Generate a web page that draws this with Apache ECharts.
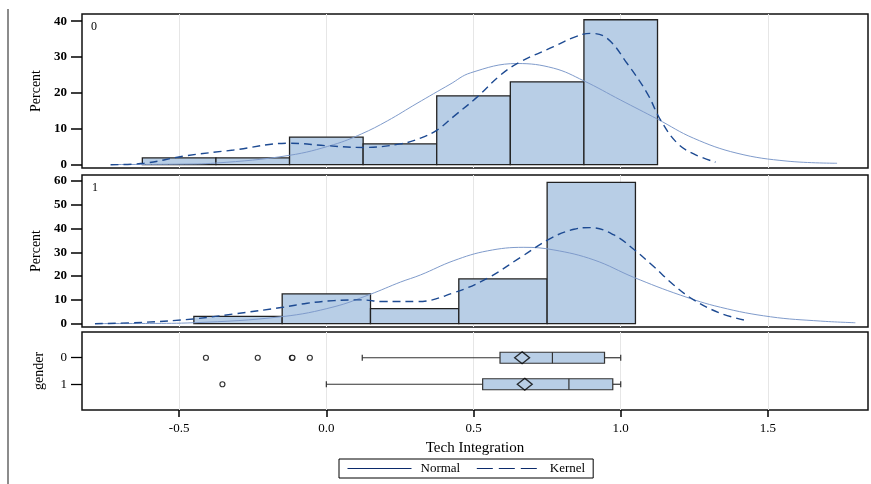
<!DOCTYPE html>
<html>
<head>
<meta charset="utf-8">
<script src="https://cdn.jsdelivr.net/npm/echarts@6/dist/echarts.min.js"></script>
<style>
  html, body { margin: 0; padding: 0; background: #fff; }
  #echart { width: 871px; height: 484px; }
</style>
</head>
<body>
<div id="echart"></div>
<script>
// 直方图 gender 0
const binWidth0 = 0.25
const binMid0 = [-0.5, -0.25, 0, 0.25, 0.5, 0.75, 1.0]
const binPct0 = [1.9, 1.9, 7.7, 5.8, 19.2, 23.1, 40.4]
// 直方图 gender 1
const binWidth1 = 0.3
const binMid1 = [-0.3, 0, 0.3, 0.6, 0.9]
const binPct1 = [3.1, 12.5, 6.3, 18.8, 59.4]

// Normal / Kernel 曲线
const normalX0 = [-0.73, -0.5, -0.376, -0.126, 0.025, 0.12, 0.207, 0.308, 0.42, 0.49, 0.648, 0.772, 0.874, 1.0, 1.125, 1.247, 1.395, 1.565, 1.735]
const normalY0 = [0.05, 0.15, 0.45, 2.6, 5.6, 8.6, 12.2, 17.1, 22.4, 25.6, 28.2, 26.9, 23.4, 18, 12.7, 7.4, 3.2, 1.0, 0.4]
const kernelX0 = [-0.733, -0.619, -0.484, -0.315, -0.126, 0, 0.127, 0.252, 0.32, 0.377, 0.432, 0.513, 0.592, 0.66, 0.772, 0.841, 0.897, 0.954, 1.022, 1.09, 1.135, 1.192, 1.248, 1.322]
const kernelY0 = [0, 0.4, 2.4, 4.1, 6.0, 5.3, 4.8, 5.8, 7.4, 9.7, 13.4, 18.9, 25, 28.7, 32.9, 35.5, 36.6, 35.2, 28.2, 19.9, 12.5, 6, 3, 0.7]
const normalX1 = [-0.78, -0.6, -0.452, -0.148, 0.026, 0.148, 0.252, 0.32, 0.433, 0.547, 0.671, 0.773, 0.909, 1.044, 1.203, 1.339, 1.509, 1.678, 1.797]
const normalY1 = [0.05, 0.1, 0.4, 3.0, 7.1, 12.3, 17.5, 20.5, 26.5, 30.6, 32.1, 31, 26.8, 19.5, 12, 6.9, 2.9, 1.1, 0.4]
const kernelX1 = [-0.786, -0.619, -0.452, -0.314, -0.148, -0.065, 0.026, 0.116, 0.196, 0.309, 0.433, 0.547, 0.66, 0.762, 0.841, 0.897, 0.977, 1.044, 1.112, 1.18, 1.248, 1.339, 1.435]
const kernelY1 = [0, 0.6, 2, 4.1, 6.9, 8.6, 9.7, 10, 9.3, 9.3, 13, 19.1, 27.9, 35.9, 39.7, 40.4, 37.3, 31.3, 24, 16.3, 10, 4.4, 1.1]

// 箱线图: gender, min, q1, median, q3, max
const genders = [0, 1]
const boxStats = [
    [0.122, 0.59, 0.768, 0.945, 1.0],
    [0.0, 0.531, 0.824, 0.973, 1.0]
]
const boxMeans = [0.665, 0.674]
const outliers0 = [-0.409, -0.233, -0.117, -0.115, -0.056]
const outliers1 = [-0.353]

const xTicks = [-0.5, 0, 0.5, 1.0, 1.5]
const pctTicks0 = [0, 10, 20, 30, 40]
const pctTicks1 = [0, 10, 20, 30, 40, 50, 60]

const serif = 'Liberation Serif'
const barFill = '#b8cee6'
const normalColor = '#7f9bcb'
const kernelColor = '#1d4a92'

const zip = (xs, ys) => xs.map((x, i) => [x, ys[i]])

const makeHist = (width) => (params, api) => {
    const mid = api.value(0)
    const p0 = api.coord([mid - width / 2, api.value(1)])
    const p1 = api.coord([mid + width / 2, 0])
    return {
        type: 'rect',
        shape: { x: p0[0], y: p0[1], width: p1[0] - p0[0], height: p1[1] - p0[1] },
        style: { fill: barFill, stroke: '#222', lineWidth: 1.3 }
    }
}

const renderBox = (params, api) => {
    const row = api.value(0)
    const pt = (i) => api.coord([api.value(i), row])
    const lo = pt(1), q1 = pt(2), med = pt(3), q3 = pt(4), hi = pt(5)
    const y = lo[1]
    const h = 11
    const stroke = { stroke: '#333', lineWidth: 1.2 }
    return {
        type: 'group',
        children: [
            { type: 'line', shape: { x1: lo[0], y1: y, x2: q1[0], y2: y }, style: stroke },
            { type: 'line', shape: { x1: q3[0], y1: y, x2: hi[0], y2: y }, style: stroke },
            { type: 'line', shape: { x1: lo[0], y1: y - 3, x2: lo[0], y2: y + 3 }, style: stroke },
            { type: 'line', shape: { x1: hi[0], y1: y - 3, x2: hi[0], y2: y + 3 }, style: stroke },
            { type: 'rect', shape: { x: q1[0], y: y - h / 2, width: q3[0] - q1[0], height: h }, style: { fill: barFill, stroke: '#333', lineWidth: 1.2 } },
            { type: 'line', shape: { x1: med[0], y1: y - h / 2, x2: med[0], y2: y + h / 2 }, style: stroke }
        ]
    }
}

const xAxisBase = (gi, showLabel) => ({
    type: 'value',
    gridIndex: gi,
    min: -0.83,
    max: 1.84,
    axisLine: { show: false, onZero: false },
    axisTick: { show: showLabel, customValues: xTicks, length: 7, lineStyle: { color: '#000', width: 1.5 } },
    axisLabel: {
        show: showLabel, customValues: xTicks, margin: 12,
        formatter: v => v.toFixed(1),
        fontFamily: serif, fontSize: 13, color: '#000'
    },
    splitLine: { show: true, lineStyle: { color: '#e6e6e6', width: 1 } },
    name: showLabel ? 'Tech Integration' : '',
    nameLocation: 'middle',
    nameGap: 31,
    nameTextStyle: { fontFamily: serif, fontSize: 15, color: '#000' }
})

const yAxisPct = (gi, min, max, ticks) => ({
    type: 'value',
    gridIndex: gi,
    min: min,
    max: max,
    name: 'Percent',
    nameLocation: 'middle',
    nameGap: 39,
    nameTextStyle: { fontFamily: serif, fontSize: 14, color: '#000' },
    axisLine: { show: false, onZero: false },
    axisTick: { show: true, customValues: ticks, length: 11, lineStyle: { color: '#000', width: 1.5 } },
    axisLabel: { customValues: ticks, margin: 15, fontFamily: serif, fontSize: 13, fontWeight: 'bold', color: '#000' },
    splitLine: { show: false }
})

const gridBase = { show: true, borderColor: '#111', borderWidth: 1.5, backgroundColor: 'transparent', left: 82, width: 786 }

const chartDom = document.getElementById('echart')
const myChart = echarts.init(chartDom)
const option = {
    animation: false,
    backgroundColor: '#fff',
    grid: [
        { ...gridBase, top: 14, height: 154 },
        { ...gridBase, top: 175, height: 152 },
        { ...gridBase, top: 332, height: 78 }
    ],
    xAxis: [xAxisBase(0, false), xAxisBase(1, false), xAxisBase(2, true)],
    yAxis: [
        yAxisPct(0, -0.92, 42, pctTicks0),
        yAxisPct(1, -1.39, 62.5, pctTicks1),
        {
            type: 'value',
            gridIndex: 2,
            inverse: true,
            min: -0.97,
            max: 1.97,
            name: 'gender',
            nameLocation: 'middle',
            nameGap: 36,
            nameTextStyle: { fontFamily: serif, fontSize: 14, color: '#000' },
            axisLine: { show: false, onZero: false },
            axisTick: { show: true, customValues: genders, length: 11, lineStyle: { color: '#000', width: 1.3 } },
            axisLabel: { customValues: genders, margin: 15, fontFamily: serif, fontSize: 13, color: '#000' },
            splitLine: { show: false }
        }
    ],
    legend: {
        left: 339,
        top: 459,
        padding: [3, 8, 3, 8],
        itemWidth: 64,
        itemHeight: 10,
        itemGap: 16,
        borderColor: '#000',
        borderWidth: 1,
        selectedMode: false,
        textStyle: { fontFamily: serif, fontSize: 13, color: '#000', padding: [0, 0, 0, 4] },
        data: [
            { name: 'Normal', itemStyle: { opacity: 0 }, lineStyle: { color: '#0b2a6b', width: 1, type: 'solid' } },
            { name: 'Kernel', itemStyle: { opacity: 0 }, lineStyle: { color: '#0b2a6b', width: 1.2, type: [16, 6] } }
        ]
    },
    graphic: [
        { type: 'line', shape: { x1: 8, y1: 9, x2: 8, y2: 484 }, style: { stroke: '#666', lineWidth: 1.5 } },
        { type: 'text', left: 91, top: 21, style: { text: '0', font: '12px "Liberation Serif"', fill: '#000' } },
        { type: 'text', left: 92, top: 182, style: { text: '1', font: '12px "Liberation Serif"', fill: '#000' } }
    ],
    series: [
        {
            type: 'custom', xAxisIndex: 0, yAxisIndex: 0,
            renderItem: makeHist(binWidth0),
            data: zip(binMid0, binPct0), z: 2
        },
        {
            type: 'custom', xAxisIndex: 1, yAxisIndex: 1,
            renderItem: makeHist(binWidth1),
            data: zip(binMid1, binPct1), z: 2
        },
        {
            name: 'Normal', type: 'line', xAxisIndex: 0, yAxisIndex: 0,
            data: zip(normalX0, normalY0), smooth: 0.4, symbol: 'none', z: 3,
            lineStyle: { color: normalColor, width: 1 }, itemStyle: { color: normalColor }
        },
        {
            name: 'Kernel', type: 'line', xAxisIndex: 0, yAxisIndex: 0,
            data: zip(kernelX0, kernelY0), smooth: 0.4, symbol: 'none', z: 4,
            lineStyle: { color: kernelColor, width: 1.4, type: [8, 5] }, itemStyle: { color: kernelColor }
        },
        {
            name: 'Normal', type: 'line', xAxisIndex: 1, yAxisIndex: 1,
            data: zip(normalX1, normalY1), smooth: 0.4, symbol: 'none', z: 3,
            lineStyle: { color: normalColor, width: 1 }, itemStyle: { color: normalColor }
        },
        {
            name: 'Kernel', type: 'line', xAxisIndex: 1, yAxisIndex: 1,
            data: zip(kernelX1, kernelY1), smooth: 0.4, symbol: 'none', z: 4,
            lineStyle: { color: kernelColor, width: 1.4, type: [8, 5] }, itemStyle: { color: kernelColor }
        },
        {
            type: 'custom', xAxisIndex: 2, yAxisIndex: 2,
            renderItem: renderBox,
            encode: { x: [1, 2, 3, 4, 5], y: 0 },
            data: genders.map((g, i) => [g].concat(boxStats[i])), z: 2
        },
        {
            type: 'scatter', xAxisIndex: 2, yAxisIndex: 2,
            symbol: 'diamond', symbolSize: [15, 12], z: 5,
            itemStyle: { color: 'rgba(0,0,0,0)', borderColor: '#000', borderWidth: 1.3 },
            data: zip(boxMeans, genders)
        },
        {
            type: 'scatter', xAxisIndex: 2, yAxisIndex: 2,
            symbol: 'circle', symbolSize: 5, z: 5,
            itemStyle: { color: '#fff', borderColor: '#000', borderWidth: 1.2 },
            data: outliers0.map(v => [v, 0]).concat(outliers1.map(v => [v, 1]))
        }
    ]
}
myChart.setOption(option)
</script>
</body>
</html>
